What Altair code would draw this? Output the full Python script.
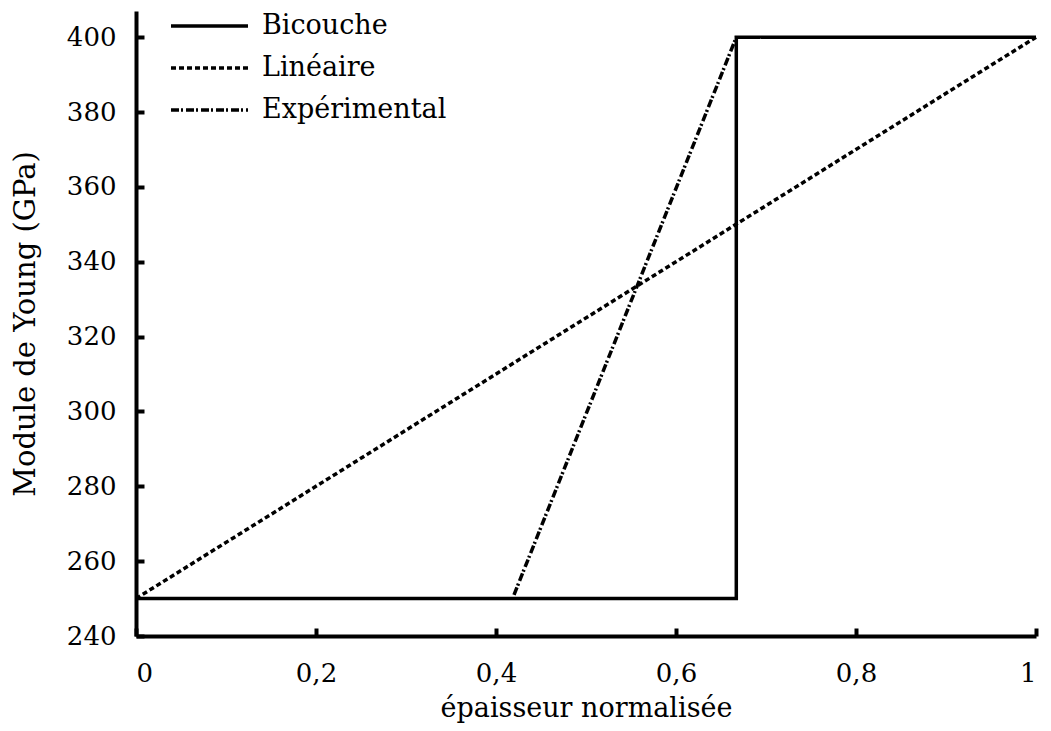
import altair as alt
import pandas as pd

# --- data ---
series_names = ["Bicouche", "Linéaire", "Expérimental"]

bicouche_x = [0.0, 0.667, 0.667, 1.0]
bicouche_y = [250, 250, 400, 400]

lineaire_x = [0.0, 1.0]
lineaire_y = [250, 400]

experimental_x = [0.42, 0.667]
experimental_y = [251, 400]

x_ticks = [0, 0.2, 0.4, 0.6, 0.8, 1]
y_ticks = [240, 260, 280, 300, 320, 340, 360, 380, 400]

rows = []
for name, xs, ys in [
    ("Bicouche", bicouche_x, bicouche_y),
    ("Linéaire", lineaire_x, lineaire_y),
    ("Expérimental", experimental_x, experimental_y),
]:
    for i, (xv, yv) in enumerate(zip(xs, ys)):
        rows.append({"serie": name, "x": xv, "y": yv, "ordre": i})
df = pd.DataFrame(rows)

FONT = "DejaVu Serif"
W, H = 900, 625

x_axis = alt.Axis(
    values=x_ticks,
    labelExpr="replace(toString(datum.value), '.', ',')",
    title="épaisseur normalisée",
    ticks=False,
    tickSize=0,
    labelPadding=24,
    labelFontSize=26,
    titleFontSize=27,
    titleFontWeight="normal",
    titleX=W / 2,
    titleY=72,
    titleBaseline="middle",
    domainWidth=4,
    domainColor="black",
    grid=True,
    gridColor="black",
    gridWidth=4,
    gridDash=[0, H - 8, 8, 3000],
    gridOpacity=1,
)

y_axis = alt.Axis(
    values=y_ticks,
    title="Module de Young (GPa)",
    ticks=False,
    tickSize=0,
    labelPadding=20,
    labelFontSize=26,
    titleFontSize=29,
    titleFontWeight="normal",
    titleX=-111,
    titleY=H / 2,
    titleBaseline="middle",
    titleAngle=-90,
    domainWidth=4,
    domainColor="black",
    grid=True,
    gridColor="black",
    gridWidth=4,
    gridDash=[8, 3000],
    gridOpacity=1,
)

legend = alt.Legend(
    title=None,
    orient="none",
    legendX=33,
    legendY=0,
    symbolType="stroke",
    symbolSize=5929,
    symbolStrokeWidth=3.5,
    labelFontSize=27,
    labelOffset=12,
    labelLimit=0,
    clipHeight=30,
    rowPadding=12,
    padding=0,
)

chart = (
    alt.Chart(df)
    .mark_line(strokeWidth=3.5, strokeCap="butt", clip=False)
    .encode(
        x=alt.X("x:Q", scale=alt.Scale(domain=[0, 1], nice=False, zero=False), axis=x_axis),
        y=alt.Y("y:Q", scale=alt.Scale(domain=[240, 407], nice=False, zero=False), axis=y_axis),
        color=alt.Color(
            "serie:N",
            scale=alt.Scale(domain=series_names, range=["black", "black", "black"]),
            legend=legend,
        ),
        strokeDash=alt.StrokeDash(
            "serie:N",
            scale=alt.Scale(domain=series_names, range=[[1, 0], [5, 3], [8, 2, 2, 3]]),
            legend=legend,
        ),
        order="ordre:Q",
    )
    .properties(
        width=W,
        height=H,
        autosize=alt.AutoSizeParams(type="none"),
        padding={"left": 128, "top": 3, "right": 7, "bottom": 87},
    )
    .configure(font=FONT)
    .configure_view(stroke=None)
    .configure_axis(labelColor="black", titleColor="black")
    .configure_legend(labelColor="black")
)

chart.save("out.html", embed_options={"renderer": "svg", "actions": False})
